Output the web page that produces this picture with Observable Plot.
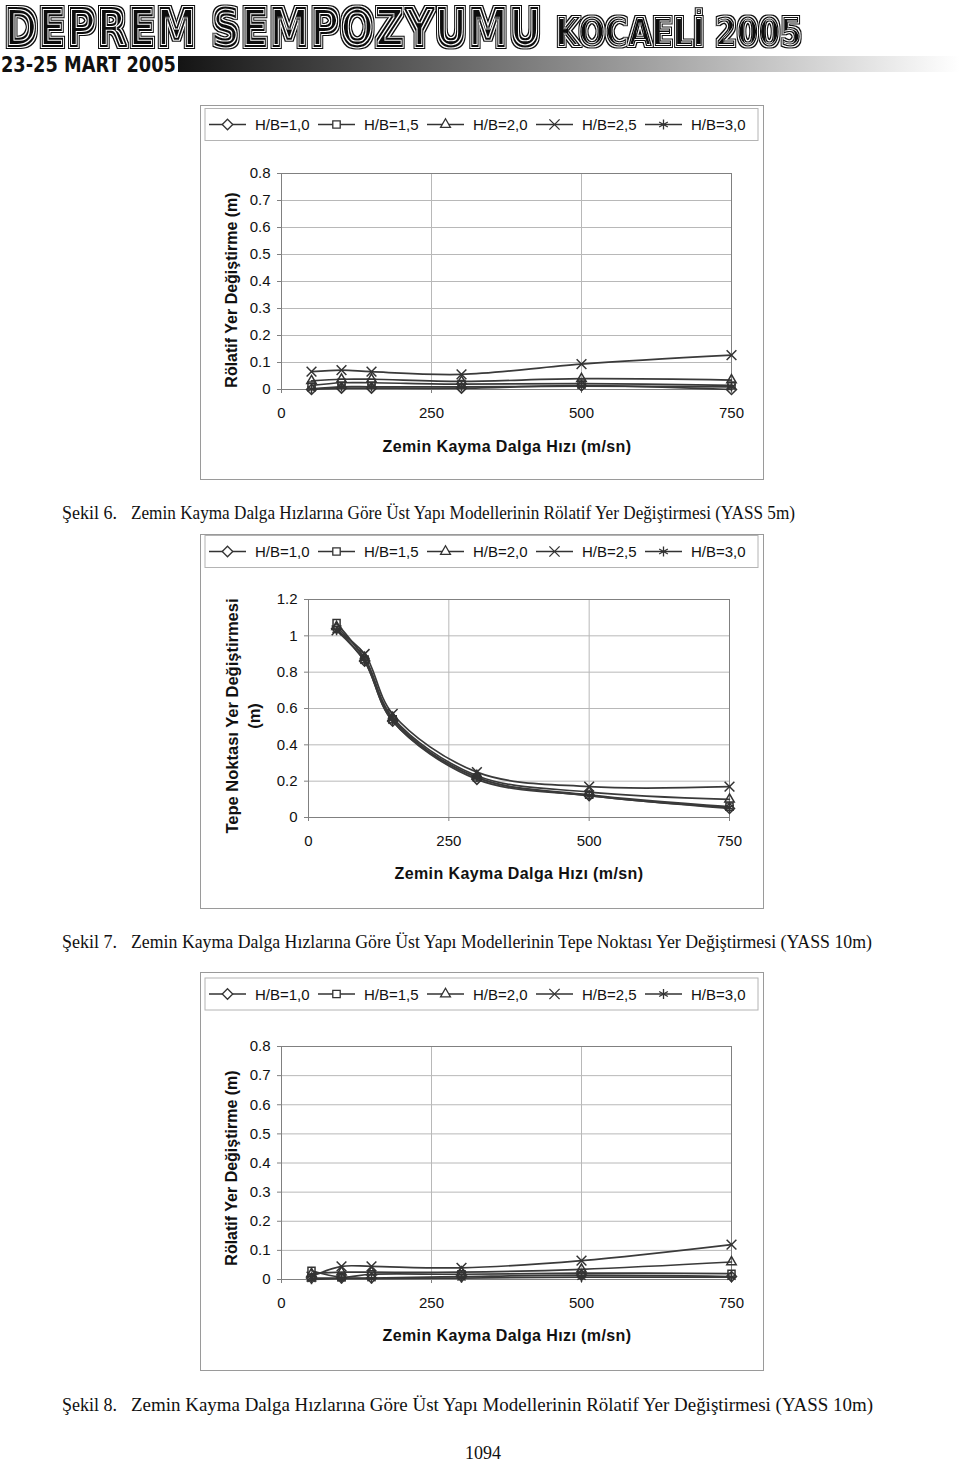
<!DOCTYPE html>
<html><head><meta charset="utf-8">
<script src="https://cdn.jsdelivr.net/npm/d3@7"></script>
<script src="https://cdn.jsdelivr.net/npm/@observablehq/plot@0.6"></script>
<style>
html,body{margin:0;padding:0;background:#fff;}
#page{position:relative;width:960px;height:1464px;overflow:hidden;font-family:"Liberation Sans",Arial,sans-serif;}
#overlay{position:absolute;left:0;top:0;}
</style></head>
<body><div id="page"><svg id="overlay" width="960" height="1464"></svg></div>
<script>
// ---------- data ----------
const seriesNames = ["H/B=1,0","H/B=1,5","H/B=2,0","H/B=2,5","H/B=3,0"];
const seriesSymbols = ["diamond2","square2","triangle2","times","asterisk"];
const vsValues = [50,100,150,300,500,750];
const xTicks = [0,250,500,750];
const yTicksRel = [0,0.1,0.2,0.3,0.4,0.5,0.6,0.7,0.8];
const yTicksTop = [0,0.2,0.4,0.6,0.8,1,1.2];

// Şekil 6 (YASS 5m) rölatif yer değiştirme
const s6_hb10 = [0.000,0.005,0.005,0.005,0.014,0.000];
const s6_hb15 = [0.015,0.025,0.025,0.020,0.022,0.015];
const s6_hb20 = [0.032,0.038,0.038,0.030,0.040,0.035];
const s6_hb25 = [0.066,0.072,0.066,0.056,0.094,0.127];
const s6_hb30 = [0.002,0.010,0.010,0.010,0.012,0.010];

// Şekil 7 (YASS 10m) tepe noktası yer değiştirmesi
const s7_hb10 = [1.04,0.86,0.53,0.21,0.120,0.050];
const s7_hb15 = [1.07,0.87,0.54,0.22,0.125,0.060];
const s7_hb20 = [1.05,0.88,0.55,0.23,0.140,0.100];
const s7_hb25 = [1.03,0.90,0.57,0.25,0.170,0.170];
const s7_hb30 = [1.03,0.86,0.53,0.22,0.120,0.055];

// Şekil 8 (YASS 10m) rölatif yer değiştirme
const s8_hb10 = [0.005,0.005,0.005,0.010,0.015,0.010];
const s8_hb15 = [0.030,0.008,0.018,0.018,0.022,0.020];
const s8_hb20 = [0.020,0.025,0.025,0.025,0.035,0.060];
const s8_hb25 = [0.010,0.045,0.045,0.040,0.065,0.120];
const s8_hb30 = [0.000,0.003,0.003,0.005,0.008,0.008];

const xTitle = "Zemin Kayma Dalga Hızı (m/sn)";
const captions = [
  ["Şekil 6.","Zemin Kayma Dalga Hızlarına Göre Üst Yapı Modellerinin Rölatif Yer Değiştirmesi (YASS 5m)"],
  ["Şekil 7.","Zemin Kayma Dalga Hızlarına Göre Üst Yapı Modellerinin Tepe Noktası Yer Değiştirmesi (YASS 10m)"],
  ["Şekil 8.","Zemin Kayma Dalga Hızlarına Göre Üst Yapı Modellerinin Rölatif Yer Değiştirmesi (YASS 10m)"]
];

function table(arrs){
  return seriesNames.flatMap((s,i)=>vsValues.map((v,j)=>({vs:v,d:arrs[i][j],series:s})));
}

// ---------- overlay (header, frames, legends, titles, captions) ----------
const ov = d3.select("#overlay");
const defs = ov.append("defs");
const gr = defs.append("linearGradient").attr("id","fade").attr("x1","0").attr("x2","1");
gr.append("stop").attr("offset","0%").attr("stop-color","#141414");
gr.append("stop").attr("offset","100%").attr("stop-color","#ffffff");

// striped (inline) lettering via morphology filter, one text element each
function stripeFilter(id,k){
  const f=defs.append("filter").attr("id",id).attr("x","-5%").attr("y","-30%").attr("width","110%").attr("height","160%");
  const m=(op,r,res)=>f.append("feMorphology").attr("in","SourceAlpha").attr("operator",op).attr("radius",r).attr("result",res);
  m("dilate",3.0*k,"d3"); m("dilate",1.7*k,"d2"); m("dilate",0.5*k,"d1"); m("erode",0.9*k,"e1"); m("erode",2.1*k,"e2");
  f.append("feComposite").attr("in","d3").attr("in2","d2").attr("operator","out").attr("result","r1");
  f.append("feComposite").attr("in","d1").attr("in2","e1").attr("operator","out").attr("result","r2");
  const mg=f.append("feMerge").attr("result","all");
  mg.append("feMergeNode").attr("in","r1"); mg.append("feMergeNode").attr("in","r2"); mg.append("feMergeNode").attr("in","e2");
  f.append("feFlood").attr("flood-color","#111").attr("result","ink");
  f.append("feComposite").attr("in","ink").attr("in2","all").attr("operator","in");
}
stripeFilter("stripeBig",1);
stripeFilter("stripeSmall",0.8);
function fitText(t,x,y,len){
  const w=t.node().getComputedTextLength()||len;
  t.attr("transform",`translate(${x},${y}) scale(${len/w},1)`);
}
function striped(txt,x,y,size,len,fid){
  const t=ov.append("text").attr("x",0).attr("y",0).attr("font-family","DejaVu Sans").attr("font-weight","bold")
    .attr("font-size",size).attr("fill","#000").attr("filter",`url(#${fid})`).text(txt);
  fitText(t,x,y,len);
}
striped("DEPREM SEMPOZYUMU",4,46,51,538,"stripeBig");
striped("KOCAELİ 2005",556,46,39,246,"stripeSmall");
ov.append("rect").attr("x",178).attr("y",56).attr("width",782).attr("height",16).attr("fill","url(#fade)");
const dt=ov.append("text").attr("x",0).attr("y",0).attr("font-family","DejaVu Sans Condensed, DejaVu Sans")
  .attr("font-weight","bold").attr("font-size",22).attr("fill","#111").text("23-25 MART 2005");
fitText(dt,1,72,175);

const legendStarts=[209,318,427,536,645];
function legend(cy){
  ov.append("rect").attr("x",205).attr("y",cy-16).attr("width",553).attr("height",32)
    .attr("fill","#fff").attr("stroke","#b4b4b4");
  seriesNames.forEach((n,i)=>{
    const s=legendStarts[i];
    ov.append("line").attr("x1",s).attr("x2",s+37).attr("y1",cy).attr("y2",cy).attr("stroke","#333").attr("stroke-width",1.3);
    const sym=[d3.symbolDiamond2,d3.symbolSquare2,d3.symbolTriangle2,d3.symbolTimes,d3.symbolAsterisk][i];
    ov.append("path").attr("d",d3.symbol(sym,70)()).attr("transform",`translate(${s+18.5},${cy})`)
      .attr("fill",i<3?"#fff":"none").attr("stroke","#333").attr("stroke-width",1.3);
    ov.append("text").attr("x",s+46).attr("y",cy+5.5).attr("font-size",15).attr("fill","#111").text(n);
  });
}
function frame(y,h){
  ov.append("rect").attr("x",200.5).attr("y",y+0.5).attr("width",563).attr("height",h).attr("fill","none").attr("stroke","#9a9a9a");
}
function vtitle(lines,cx,cy,gap,size){
  lines.forEach((t,i)=>{
    ov.append("text").attr("transform",`translate(${cx+i*gap},${cy}) rotate(-90)`)
      .attr("text-anchor","middle").attr("dy","0.35em").attr("font-size",size).attr("font-weight","bold").attr("fill","#111").text(t);
  });
}
function htitle(cx,cy){
  ov.append("text").attr("x",cx).attr("y",cy).attr("dy","0.35em").attr("text-anchor","middle")
    .attr("font-size",16).attr("letter-spacing","0.4px").attr("font-weight","bold").attr("fill","#111").text(xTitle);
}
function caption(i,y,end){
  ov.append("text").attr("x",62).attr("y",y).attr("font-family","Liberation Serif").attr("font-size",18).attr("fill","#111").text(captions[i][0]);
  ov.append("text").attr("x",131).attr("y",y).attr("font-family","Liberation Serif").attr("font-size",18).attr("fill","#111")
    .attr("textLength",end-131).attr("lengthAdjust","spacingAndGlyphs").text(captions[i][1]);
}

// chart 1
frame(105,374); legend(124.5);
vtitle(["Rölatif Yer Değiştirme (m)"],231,290,0,16); htitle(507,446);
// chart 2
frame(534,374); legend(551.5);
vtitle(["Tepe Noktası Yer Değiştirmesi","(m)"],232,716,22,16.5); htitle(519,873);
// chart 3
frame(972,398); legend(994);
vtitle(["Rölatif Yer Değiştirme (m)"],231,1168,0,16); htitle(507,1335);

caption(0,519,795); caption(1,948,872); caption(2,1411,873);
ov.append("text").attr("x",483).attr("y",1459).attr("text-anchor","middle").attr("font-family","Liberation Serif").attr("font-size",18).attr("fill","#111").text("1094");

// ---------- charts (Observable Plot) ----------
function drawChart(o){
  const data=table(o.arrs);
  const svg=Plot.plot({
    width:563,height:o.height,
    marginTop:o.mt,marginBottom:o.mb,marginLeft:o.ml,marginRight:o.mr,
    style:{fontFamily:"Liberation Sans, Arial, sans-serif",fontSize:"15px",overflow:"visible",background:"transparent",color:"#111"},
    x:{domain:[0,750],label:null},
    y:{domain:o.yDomain,label:null},
    symbol:{domain:seriesNames,range:seriesSymbols},
    marks:[
      Plot.gridX(xTicks,{stroke:"#b8b8b8",strokeOpacity:1}),
      Plot.gridY(o.yTicks,{stroke:"#b8b8b8",strokeOpacity:1}),
      Plot.frame({stroke:"#808080"}),
      Plot.axisX({ticks:xTicks,tickSize:4,tickPadding:14,tickFormat:d=>String(d),label:null,stroke:"#808080"}),
      Plot.axisY({ticks:o.yTicks,tickSize:4,tickPadding:7,tickFormat:d=>String(d),label:null,stroke:"#808080"}),
      Plot.line(data,{x:"vs",y:"d",z:"series",curve:"catmull-rom",stroke:"#3a3a3a",strokeWidth:1.7}),
      Plot.dot(data,{x:"vs",y:"d",symbol:"series",r:4.5,fill:"none",stroke:"#333",strokeWidth:1.5})
    ]
  });
  svg.style.position="absolute";
  svg.style.left="200px";
  svg.style.top=o.top+"px";
  document.getElementById("page").appendChild(svg);
}
drawChart({top:150,height:320,mt:23,mb:81,ml:81,mr:32,yDomain:[0,0.8],yTicks:yTicksRel,
  arrs:[s6_hb10,s6_hb15,s6_hb20,s6_hb25,s6_hb30]});
drawChart({top:580,height:300,mt:19,mb:63,ml:108,mr:34,yDomain:[0,1.2],yTicks:yTicksTop,
  arrs:[s7_hb10,s7_hb15,s7_hb20,s7_hb25,s7_hb30]});
drawChart({top:1020,height:320,mt:26,mb:61,ml:81,mr:32,yDomain:[0,0.8],yTicks:yTicksRel,
  arrs:[s8_hb10,s8_hb15,s8_hb20,s8_hb25,s8_hb30]});
</script></body></html>
